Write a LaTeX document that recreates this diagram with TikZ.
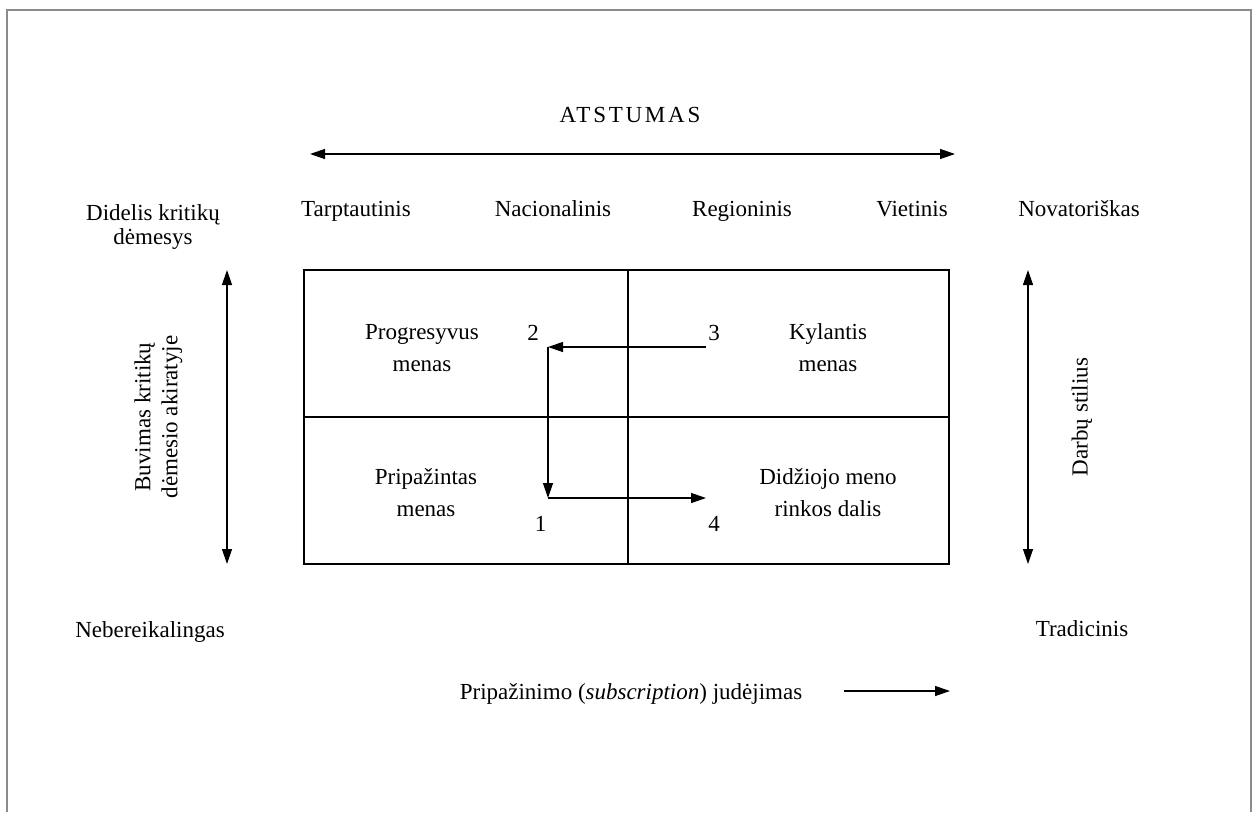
\documentclass[tikz,border=0pt]{standalone}
\usepackage{fontspec}
\setmainfont{Liberation Serif}
\usetikzlibrary{arrows.meta}
\begin{document}
\begin{tikzpicture}[x=1pt,y=-1pt,
  lbl/.style={font=\fontsize{23}{26}\selectfont, inner sep=0pt},
  two/.style={lbl, align=center, text height=0.7em, text depth=0.25em},
  boxtxt/.style={two, font=\fontsize{23}{32}\selectfont},
  arr/.style={line width=1.3pt, -{Triangle[length=15pt,width=10pt]}},
  darr/.style={line width=1.3pt, {Triangle[length=15pt,width=10pt]}-{Triangle[length=15pt,width=10pt]}},
  frame/.style={draw=black!45, line width=2pt},
  grid/.style={draw, line width=1.2pt}]
\useasboundingbox (0,0) rectangle (1252,812);
\fill[white] (0,0) rectangle (1252,812);
% outer frame
\draw[frame] (7,812) -- (7,10) -- (1251,10) -- (1251,812);

% title
\node[lbl, anchor=base] (title) at (630,122) {\addfontfeature{LetterSpace=12}ATSTUMAS};
\coordinate (tl) at (310,154);
\coordinate (tr) at (955,154);
\draw[darr] (tl) -- (tr);

% top labels
\node[lbl, anchor=base] (tarp) at (356,216) {Tarptautinis};
\node[lbl, anchor=base] (nac) at (553,216) {Nacionalinis};
\node[lbl, anchor=base] (reg) at (742,216) {Regioninis};
\node[lbl, anchor=base] (viet) at (912,216) {Vietinis};
\node[lbl, anchor=base] (nov) at (1079,216) {Novatoriškas};
\node[two, font=\fontsize{23}{24}\selectfont] (didelis) at (153,241.8) {Didelis kritikų\\dėmesys};

% bottom labels
\node[lbl, anchor=base] (neb) at (150,637) {Nebereikalingas};
\node[lbl, anchor=base] (trad) at (1082,636) {Tradicinis};

% side arrows
\coordinate (lt) at (227,270);
\coordinate (lb) at (227,564);
\draw[darr] (lt) -- (lb);
\coordinate (rt) at (1028,270);
\coordinate (rb) at (1028,564);
\draw[darr] (rt) -- (rb);
\node[two, rotate=90, font=\fontsize{23}{27}\selectfont] (buv) at (175,417) {Buvimas kritikų\\dėmesio akiratyje};
\node[lbl, rotate=90] (darb) at (1082,417) {Darbų stilius};

% grid
\draw[grid] (304,270) rectangle (949,564);
\draw[grid] (628,270) -- (628,564);
\draw[grid] (304,417) -- (949,417);

% quadrant texts
\node[boxtxt] (prog) at (422,368.8) {Progresyvus\\menas};
\node[boxtxt] (kyl) at (828,368.8) {Kylantis\\menas};
\node[boxtxt] (prip) at (426,514.5) {Pripažintas\\menas};
\node[boxtxt] (didz) at (828,513.8) {Didžiojo meno\\rinkos dalis};

% numbers
\node[lbl, anchor=base] (n2) at (533,340) {2};
\node[lbl, anchor=base] (n3) at (714,340) {3};
\node[lbl, anchor=base] (n1) at (540.5,531) {1};
\node[lbl, anchor=base] (n4) at (714,531) {4};

% path arrows
\coordinate (p3) at (706,347);
\coordinate (p2) at (548,347);
\coordinate (p1) at (548,498);
\coordinate (p4) at (706,498);
\draw[arr] (p3) -- (p2);
\draw[arr] (p2) -- (p1);
\draw[arr] (p1) -- (p4);

% bottom movement
\node[lbl, anchor=base] (mov) at (631,699) {Pripažinimo (\textit{subscription}) judėjimas};
\coordinate (ma) at (844,691);
\coordinate (mb) at (950,691);
\draw[arr] (ma) -- (mb);
\end{tikzpicture}
\end{document}
